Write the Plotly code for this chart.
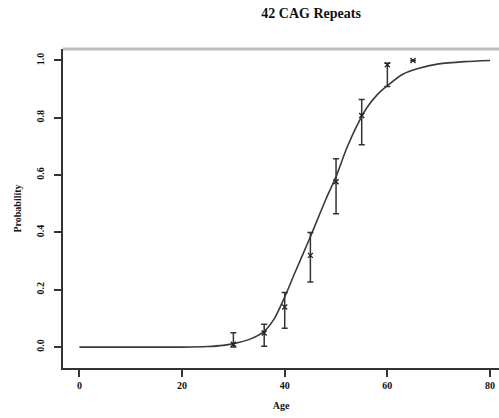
import plotly.graph_objects as go

# Observed data (age, probability, error bar limits)
ages = [30, 36, 40, 45, 50, 55, 60, 65]
probs = [0.010, 0.049, 0.140, 0.320, 0.577, 0.808, 0.985, 1.000]
upper = [0.050, 0.080, 0.190, 0.400, 0.657, 0.864, 0.990, 1.000]
lower = [0.000, 0.003, 0.066, 0.227, 0.465, 0.706, 0.909, 1.000]

# Fitted curve
curve_age = [0, 10, 20, 25, 28, 30, 33, 36, 38, 40, 42, 45, 48, 50, 52, 54, 56, 58, 60, 63, 66, 70, 75, 80]
curve_p = [0.0, 0.0, 0.0, 0.002, 0.006, 0.012, 0.026, 0.055, 0.10, 0.175, 0.26, 0.385, 0.515, 0.595, 0.69, 0.77, 0.835, 0.88, 0.912, 0.952, 0.972, 0.988, 0.996, 1.0]

x_ticks = [0, 20, 40, 60, 80]
y_ticks = [0.0, 0.2, 0.4, 0.6, 0.8, 1.0]
y_tick_text = ["0.0", "0.2", "0.4", "0.6", "0.8", "1.0"]

err_plus = [u - p for u, p in zip(upper, probs)]
err_minus = [p - l for p, l in zip(probs, lower)]

fig = go.Figure()
fig.add_trace(go.Scatter(
    x=curve_age, y=curve_p, mode="lines",
    line=dict(color="#3a3a3a", width=1.6, shape="spline", smoothing=0.8),
    hoverinfo="skip", showlegend=False))
fig.add_trace(go.Scatter(
    x=ages, y=probs, mode="markers",
    marker=dict(symbol="x-thin", size=5, line=dict(color="#222", width=1.3)),
    error_y=dict(type="data", symmetric=False, array=err_plus, arrayminus=err_minus,
                 color="#333", thickness=1.5, width=3),
    showlegend=False))

font_serif = "Liberation Serif, Times New Roman, serif"
fig.update_layout(
    template="none",
    width=499, height=418,
    margin=dict(l=63, r=0, t=49, b=50, autoexpand=False),
    paper_bgcolor="white", plot_bgcolor="white",
    title=dict(text="<b>42 CAG Repeats</b>", x=0.569, xanchor="center",
               y=1 - 13 / 418, yanchor="middle", xref="paper",
               font=dict(family=font_serif, size=14, color="#111")),
    font=dict(family=font_serif, color="#111"),
)
fig.update_xaxes(
    automargin=False,
    range=[-3.2, 81.75], tickmode="array", tickvals=x_ticks,
    ticks="outside", ticklen=7, tickwidth=1.5, tickcolor="#333",
    showgrid=False, zeroline=False,
    showline=True, linecolor="#333", linewidth=2, mirror=False,
    tickfont=dict(size=10, family=font_serif, color="#111", weight="bold"),
    title=dict(text="<b>Age</b>", font=dict(size=10, family=font_serif), standoff=12),
)
fig.update_yaxes(
    automargin=False,
    range=[-0.073, 1.04], tickmode="array", tickvals=y_ticks, ticktext=y_tick_text,
    ticks="outside", ticklen=7, tickwidth=1.5, tickcolor="#333",
    tickangle=-90, ticklabelstandoff=6,
    showgrid=False, zeroline=False,
    showline=True, linecolor="#333", linewidth=2,
    tickfont=dict(size=10, family=font_serif, color="#111", weight="bold"),
    title=dict(text="<b>Probability</b>", font=dict(size=10, family=font_serif), standoff=12),
)
# light grey top border line
fig.add_shape(type="line", xref="paper", yref="paper", x0=0, x1=1, y0=1, y1=1,
              line=dict(color="#bbbbbb", width=3))

fig.write_html("out.html",
               config={"displayModeBar": False},
               post_script="document.body.style.margin='0';document.body.style.overflow='hidden';")
